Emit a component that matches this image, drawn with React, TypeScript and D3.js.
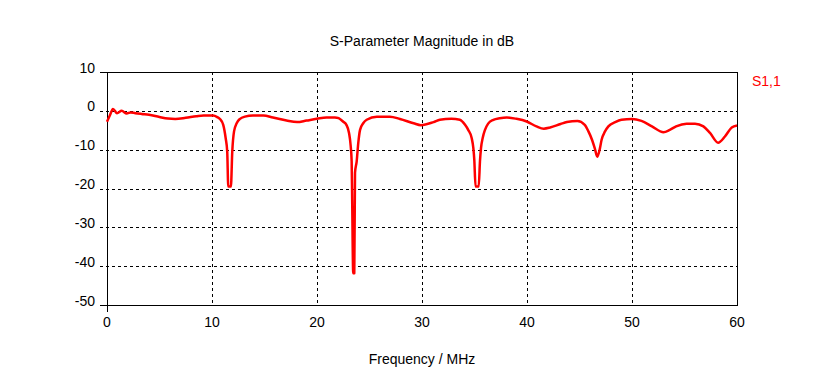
import React from "react";
import * as d3 from "d3";

const freqMHz = [
  0, 0.3, 0.57, 0.95, 1.4, 1.88, 2.25, 2.7, 3.3, 4, 5, 5.8, 6.5, 7.5, 8.5, 9.2, 10.1, 10.5, 10.76,
  11.07, 11.3, 11.45, 11.55, 11.8, 11.93, 12.1, 12.35, 12.67, 13.14, 13.9, 14.9, 15.8, 17.1, 18.1, 19.0,
  19.97, 20.9, 21.7, 22.06, 22.5, 22.8, 23.05, 23.2, 23.3, 23.35, 23.45, 23.55, 23.62, 23.78, 23.93, 24.1,
  24.4, 24.73, 25.7, 26.95, 27.9, 29.2, 29.9, 31.1, 31.7, 32.8, 33.6, 34.1, 34.4, 34.73, 34.89, 34.98,
  35.1, 35.4, 35.52, 35.62, 35.78, 36.0, 36.3, 36.8, 37.4, 38.07, 39.0, 39.97, 40.9, 41.6, 42.2, 43.2,
  43.8, 44.8, 45.5, 45.85, 46.2, 46.45, 46.7, 46.95, 47.1, 47.43, 47.75, 48.4, 49.0, 50.0, 50.9, 51.9,
  53.0, 53.6, 54.2, 55.2, 56.0, 56.8, 57.43, 58.2, 58.85, 59.5, 60,
];
const s11dB = [
  -2.8, -1.0, 0.5, -0.6, 0, -0.7, -0.4, -0.6, -0.8, -1.0, -1.6, -2.0, -2.1, -1.8, -1.4, -1.2, -1.2, -1.6, -2.1,
  -3.6, -7, -10.5, -19.5, -19.5, -10.5, -5.3, -3.2, -2.06, -1.5, -1.2, -1.2, -1.7, -2.5, -2.9, -2.5,
  -2.06, -1.7, -1.7, -1.9, -2.8, -3.6, -5.7, -8.8, -13, -23, -41.8, -41.8, -16, -13, -8.3, -4.9,
  -3.2, -2.3, -1.5, -1.5, -2.1, -3.2, -3.7, -2.9, -2.3, -2.06, -2.3, -3.6, -4.9, -7, -9.6, -12.6,
  -19.5, -19.5, -13, -9.6, -7, -4.9, -3.3, -2.3, -1.9, -1.7, -2.06, -2.75, -4.0, -4.6, -4.3, -3.4,
  -2.9, -2.6, -3.6, -5.3, -7.5, -9.6, -11.8, -9.6, -7.5, -5.3, -4, -2.9, -2.3, -2.1, -2.6, -4,
  -5.5, -4.9, -4, -3.3, -3.3, -4, -5.7, -8.2, -6.6, -4.3, -3.8,
];
const xTicks = [0, 10, 20, 30, 40, 50, 60];
const yTicks = [10, 0, -10, -20, -30, -40, -50];
const title = "S-Parameter Magnitude in dB";
const xLabel = "Frequency / MHz";
const seriesName = "S1,1";

export default function App() {
  const W = 817, H = 378;
  const x = d3.scaleLinear().domain([0, 60]).range([107, 737]);
  const y = d3.scaleLinear().domain([-50, 10]).range([305, 72]);
  const pts = freqMHz.map((f, i) => [f, s11dB[i]] as [number, number]);
  const line = d3.line<[number, number]>()
    .x(d => x(d[0]))
    .y(d => y(d[1]))
    .curve(d3.curveMonotoneX);
  const font = "Liberation Sans, Arial, sans-serif";
  const px = (v: number) => Math.round(v) + 0.5;
  return (
    <svg width={W} height={H} style={{ position: "absolute", left: 0, top: 0, background: "#fff" }}
      fontFamily={font} fontSize={14}>
      <rect width={W} height={H} fill="#fff" />
      {/* horizontal gridlines */}
      {yTicks.filter(t => t !== 10 && t !== -50).map(t => (
        <line key={"hg" + t} x1={100} x2={737} y1={px(y(t))} y2={px(y(t))}
          stroke="#000" strokeDasharray="3,3" shapeRendering="crispEdges" />
      ))}
      {xTicks.filter(t => t !== 0 && t !== 60).map(t => (
        <line key={"vg" + t} x1={px(x(t))} x2={px(x(t))} y1={72} y2={305}
          stroke="#000" strokeDasharray="3,3" shapeRendering="crispEdges" />
      ))}
      {/* frame */}
      <line x1={100} x2={738} y1={px(y(10))} y2={px(y(10))} stroke="#000" shapeRendering="crispEdges" />
      <line x1={100} x2={738} y1={px(y(-50))} y2={px(y(-50))} stroke="#000" shapeRendering="crispEdges" />
      <line x1={px(x(0))} x2={px(x(0))} y1={72} y2={312} stroke="#000" shapeRendering="crispEdges" />
      <line x1={px(x(60))} x2={px(x(60))} y1={72} y2={306} stroke="#000" shapeRendering="crispEdges" />
      {/* y tick labels */}
      {yTicks.map(t => (
        <text key={"yl" + t} x={95} y={y(t) + 0.5} textAnchor="end" fill="#000">{t}</text>
      ))}
      {xTicks.map(t => (
        <text key={"xl" + t} x={x(t)} y={327} textAnchor="middle" fill="#000">{t}</text>
      ))}
      <path d={line(pts) || ""} fill="none" stroke="#ff0000" strokeWidth={2.5} strokeLinejoin="round" />
      <text x={422} y={46} textAnchor="middle" fill="#000">{title}</text>
      <text x={422} y={364} textAnchor="middle" fill="#000">{xLabel}</text>
      <text x={752} y={86} fill="#ff0000">{seriesName}</text>
    </svg>
  );
}
